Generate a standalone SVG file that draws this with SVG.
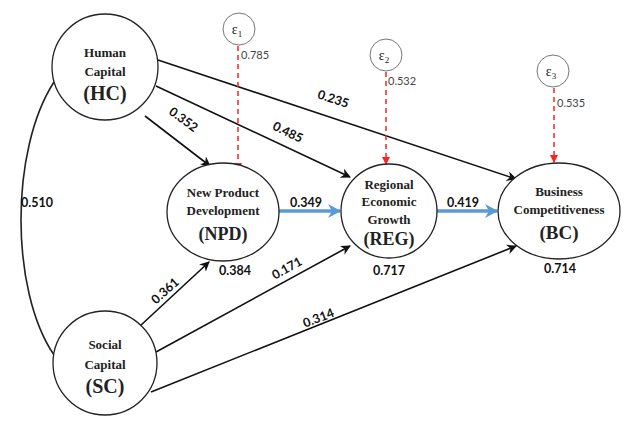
<svg xmlns="http://www.w3.org/2000/svg" width="625" height="422" viewBox="0 0 625 422">
<style>
.node{fill:#fff;stroke:#222;stroke-width:1.3}
.err{fill:#fff;stroke:#777;stroke-width:1}
.t{font-family:"Liberation Serif",serif;font-weight:bold;fill:#222;text-anchor:middle;font-size:13px}
.ab{font-size:20px}
.c{font-family:Lato,"Liberation Sans",sans-serif;font-weight:bold;fill:#111;font-size:12.5px;text-anchor:middle}
.e{font-family:Lato,"Liberation Sans",sans-serif;fill:#444;font-size:11px}
.eps{font-family:"Liberation Serif",serif;fill:#222;font-size:14px;text-anchor:middle}
.ar{fill:none;stroke:#111;stroke-width:1.6;marker-end:url(#ah)}
.bl{fill:none;stroke:#5b9bd5;stroke-width:3.5;marker-end:url(#bh)}
.rd{fill:none;stroke:#ff2020;stroke-width:1.5;stroke-dasharray:5,4;marker-end:url(#rh)}
</style>
<defs>
<marker id="ah" markerWidth="10" markerHeight="10" refX="9" refY="5" orient="auto" markerUnits="userSpaceOnUse"><path d="M0,0 L10,5 L0,10 L3,5 z" fill="#111"/></marker>
<marker id="bh" markerWidth="14" markerHeight="14" refX="12" refY="7" orient="auto" markerUnits="userSpaceOnUse"><path d="M0,0 L13,7 L0,14 L4,7 z" fill="#5b9bd5"/></marker>
<marker id="rh" markerWidth="8" markerHeight="8" refX="7" refY="4" orient="auto" markerUnits="userSpaceOnUse"><path d="M0,0 L8,4 L0,8 z" fill="#ff2020"/></marker>
</defs>
<rect width="625" height="422" fill="#fff"/>
<g id="connectors">
<path d="M54,82 C10,150 10,290 54,355" fill="none" stroke="#222" stroke-width="1.6"/>
<path class="ar" d="M145,116 L210,166"/>
<path class="ar" d="M156,86 L350,177"/>
<path class="ar" d="M158,60 L516,179"/>
<path class="bl" d="M279,211 L340,211"/>
<path class="bl" d="M437,211 L497,211"/>
<path class="ar" d="M140,326 L209,262"/>
<path class="ar" d="M156,352 L350,246"/>
<path class="ar" d="M151,392 L516,246"/>
<path class="rd" d="M238,46 L238,170"/>
<path class="rd" d="M386,72 L386,164"/>
<path class="rd" d="M554,88 L554,162"/>
<text class="c" x="37" y="207">0.510</text>
<text class="c" transform="translate(181,123) rotate(36)">0.352</text>
<text class="c" transform="translate(286,136) rotate(26)">0.485</text>
<text class="c" transform="translate(332,103) rotate(18)">0.235</text>
<text class="c" x="306" y="207">0.349</text>
<text class="c" x="463" y="207">0.419</text>
<text class="c" transform="translate(168,294) rotate(-42)">0.361</text>
<text class="c" transform="translate(289,272) rotate(-29)">0.171</text>
<text class="c" transform="translate(320,322) rotate(-21)">0.314</text>
</g>
<g id="HC">
<circle class="node" cx="105" cy="67" r="53"/>
<text class="t" x="105" y="57">Human</text>
<text class="t" x="105" y="76">Capital</text>
<text class="t ab" x="105" y="100">(HC)</text>
</g>
<g id="SC">
<circle class="node" cx="105" cy="363" r="52"/>
<text class="t" x="105" y="349">Social</text>
<text class="t" x="105" y="369">Capital</text>
<text class="t ab" x="105" y="393">(SC)</text>
</g>
<g id="NPD">
<ellipse class="node" cx="223" cy="212" rx="56" ry="49"/>
<text class="t" x="223" y="197">New Product</text>
<text class="t" x="223" y="215">Development</text>
<text class="t" x="223" y="240" style="font-size:18px">(NPD)</text>
<text class="c" x="235" y="275">0.384</text>
</g>
<g id="REG">
<ellipse class="node" cx="389" cy="211" rx="48" ry="47"/>
<text class="t" x="389" y="189">Regional</text>
<text class="t" x="389" y="206">Economic</text>
<text class="t" x="389" y="224">Growth</text>
<text class="t" x="389" y="245" style="font-size:18px">(REG)</text>
<text class="c" x="389" y="275">0.717</text>
</g>
<g id="BC">
<ellipse class="node" cx="559" cy="211" rx="61" ry="48"/>
<text class="t" x="559" y="196">Business</text>
<text class="t" x="559" y="214">Competitiveness</text>
<text class="t" x="559" y="239" style="font-size:19px">(BC)</text>
<text class="c" x="560" y="273">0.714</text>
</g>
<g id="e1">
<circle class="err" cx="239" cy="29" r="16"/>
<text class="eps" x="237" y="34">ε<tspan font-size="9" dy="3">1</tspan></text>
<text class="e" x="241" y="59">0.785</text>
</g>
<g id="e2">
<circle class="err" cx="386" cy="55" r="16"/>
<text class="eps" x="384" y="60">ε<tspan font-size="9" dy="3">2</tspan></text>
<text class="e" x="388" y="85">0.532</text>
</g>
<g id="e3">
<circle class="err" cx="553" cy="71" r="16"/>
<text class="eps" x="551" y="76">ε<tspan font-size="9" dy="3">3</tspan></text>
<text class="e" x="557" y="107">0.535</text>
</g>
</svg>
